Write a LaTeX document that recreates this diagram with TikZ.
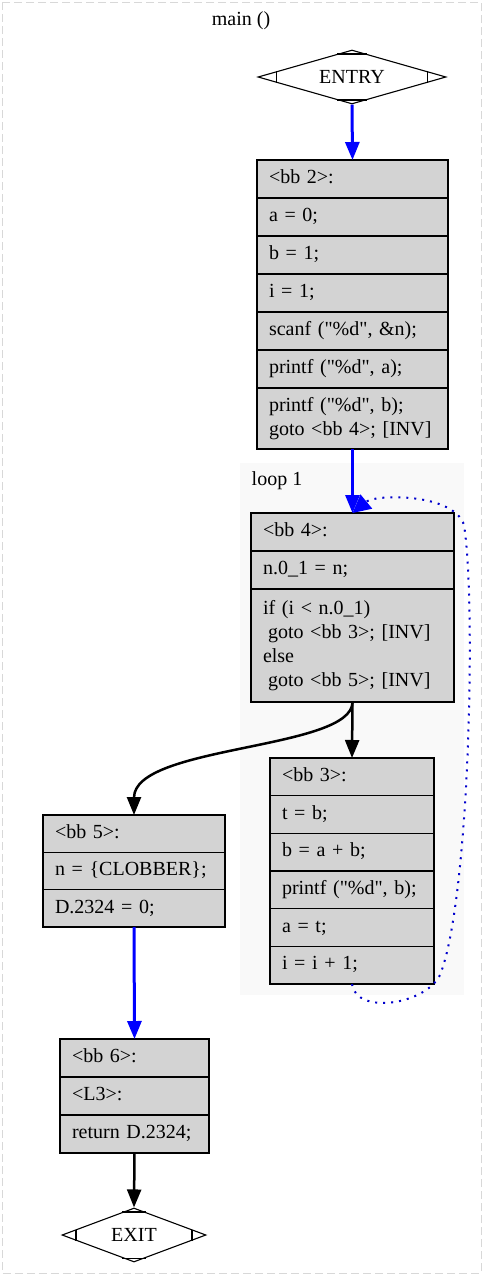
\documentclass[tikz,border=0pt]{standalone}
\usepackage{fontspec}
\setmainfont{Liberation Serif}[Ligatures=TeXOff]
\usetikzlibrary{shapes.geometric,arrows.meta,calc}
\definecolor{boxgray}{HTML}{D3D3D3}
\definecolor{clusterbg}{HTML}{F9F9F9}
\definecolor{framegray}{HTML}{D8D8D8}
\definecolor{loopblue}{HTML}{0000CC}
\newcommand{\dq}{\char34\relax}
\begin{document}
\begin{tikzpicture}[x=1pt,y=-1pt,
  txt/.style={font=\fontsize{20}{24}\selectfont},
  row/.style={txt,draw,line width=1.1pt,fill=boxgray,anchor=north west,
    inner xsep=12pt,inner ysep=0pt,outer sep=0pt,align=left,
    execute at begin node=\strut,execute at end node=\strut},
  wtwo/.style={row,text width=167pt},
  wfour/.style={row,text width=179pt},
  wthree/.style={row,text width=140pt},
  wfive/.style={row,text width=158pt},
  wsix/.style={row,text width=125pt},
  term/.style={txt,draw,line width=1.1pt,shape=diamond,aspect=3.5,inner sep=0pt,
    minimum height=54pt,fill=white},
  bluearrow/.style={draw=blue,line width=3pt,-{Triangle[length=18pt,width=14pt,fill=blue]}},
  blackarrow/.style={draw=black,line width=2.5pt,-{Triangle[length=18pt,width=14pt,fill=black]}},
  backedge/.style={draw=loopblue,line width=2pt,dash pattern=on 2pt off 6pt,
    -{Triangle[length=18pt,width=18pt,fill=blue,color=blue]}},
  dmark/.style={line width=1.3pt}
]
\useasboundingbox (0,0) rectangle (484,1275);
\fill[white] (0,0) rectangle (484,1275);
\draw[framegray,line width=1pt,dash pattern=on 8pt off 4pt] (2,2) rectangle (481,1273);
\node[txt] (title) at (241,21) {main ()};
\fill[clusterbg] (240,463) rectangle (464,995);
\node[txt] (looplabel) at (277,481) {loop 1};

% ENTRY
\node[term,minimum width=188pt] (entry) at (352,77) {ENTRY};

% bb 2
\node[wtwo,minimum height=38pt] (bb2) at (257,160) {<bb 2>:};
\node[wtwo,minimum height=38pt] (bb2a) at (bb2.south west) {a = 0;};
\node[wtwo,minimum height=38pt] (bb2b) at (bb2a.south west) {b = 1;};
\node[wtwo,minimum height=38pt] (bb2c) at (bb2b.south west) {i = 1;};
\node[wtwo,minimum height=38pt] (bb2d) at (bb2c.south west) {scanf (\dq\%d\dq, \&n);};
\node[wtwo,minimum height=38pt] (bb2e) at (bb2d.south west) {printf (\dq\%d\dq, a);};
\node[wtwo,minimum height=61pt] (bb2f) at (bb2e.south west) {printf (\dq\%d\dq, b);\\goto <bb 4>; [INV]};

% bb 4
\node[wfour,minimum height=38pt] (bb4) at (251,513) {<bb 4>:};
\node[wfour,minimum height=38pt] (bb4a) at (bb4.south west) {n.0\_1 = n;};
\node[wfour,minimum height=113pt] (bb4b) at (bb4a.south west) {if (i < n.0\_1)\\\hspace*{0.25em}goto <bb 3>; [INV]\\else\\\hspace*{0.25em}goto <bb 5>; [INV]};

% bb 3
\node[wthree,minimum height=37.67pt] (bb3) at (270,758) {<bb 3>:};
\node[wthree,minimum height=37.67pt] (bb3a) at (bb3.south west) {t = b;};
\node[wthree,minimum height=37.67pt] (bb3b) at (bb3a.south west) {b = a + b;};
\node[wthree,minimum height=37.67pt] (bb3c) at (bb3b.south west) {printf (\dq\%d\dq, b);};
\node[wthree,minimum height=37.67pt] (bb3d) at (bb3c.south west) {a = t;};
\node[wthree,minimum height=37.67pt] (bb3e) at (bb3d.south west) {i = i + 1;};

% bb 5
\node[wfive,minimum height=37.33pt] (bb5) at (43,815) {<bb 5>:};
\node[wfive,minimum height=37.33pt] (bb5a) at (bb5.south west) {n = \{CLOBBER\};};
\node[wfive,minimum height=37.33pt] (bb5b) at (bb5a.south west) {D.2324 = 0;};

% bb 6
\node[wsix,minimum height=38pt] (bb6) at (60,1039) {<bb 6>:};
\node[wsix,minimum height=38pt] (bb6a) at (bb6.south west) {<L3>:};
\node[wsix,minimum height=38pt] (bb6b) at (bb6a.south west) {return D.2324;};

% EXIT
\node[term,minimum width=144pt] (exit) at (134,1235) {EXIT};

% diamond marks
\foreach \n in {entry,exit}{
  \draw[dmark] ($(\n.west)!0.2!(\n.north)$) -- ($(\n.west)!0.2!(\n.south)$);
  \draw[dmark] ($(\n.east)!0.2!(\n.north)$) -- ($(\n.east)!0.2!(\n.south)$);
  \draw[dmark] ($(\n.north)!0.16!(\n.west)$) -- ($(\n.north)!0.16!(\n.east)$);
  \draw[dmark] ($(\n.south)!0.16!(\n.west)$) -- ($(\n.south)!0.16!(\n.east)$);
}

% edges
\coordinate (lpA) at (440,975);
\coordinate (lpB) at (464,525);
\draw[bluearrow] (entry.south) -- (bb2.north);
\draw[bluearrow] (bb2f.south) -- (bb4.north);
\draw[blackarrow] (bb4b.south) -- (bb3.north);
\draw[blackarrow] (bb4b.south) .. controls +(0,48) and +(0,-70) .. (bb5.north);
\draw[bluearrow] (bb5b.south) -- (bb6.north);
\draw[blackarrow] (bb6b.south) -- (exit.north);
\draw[backedge] (bb3e.south) .. controls +(4,31) and +(-15,30) .. (lpA)
  .. controls +(30,-75) and +(12,75) .. (lpB)
  .. controls +(-10,-32) and +(23,-19) .. (bb4.north);
\end{tikzpicture}
\end{document}
